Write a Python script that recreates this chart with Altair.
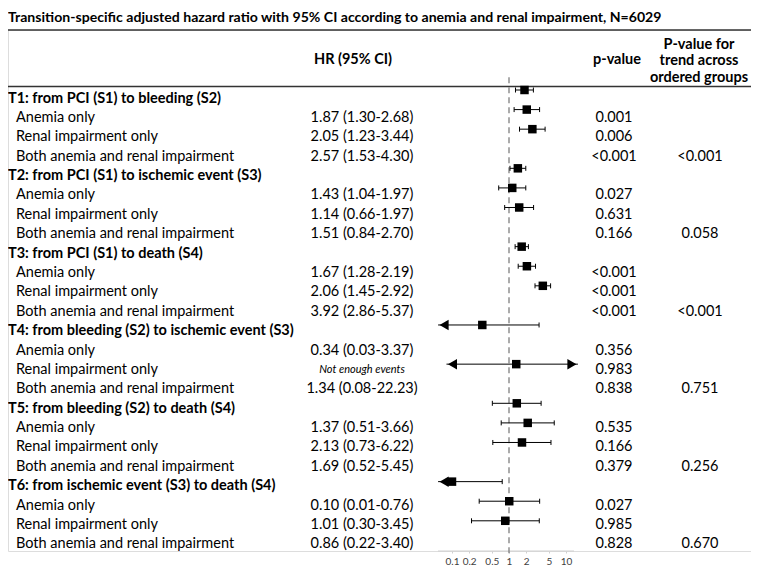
import altair as alt
import pandas as pd

TITLE = "Transition-specific adjusted hazard ratio with 95% CI according to anemia and renal impairment, N=6029"

transitions = [
    "T1: from PCI (S1) to bleeding (S2)",
    "T2: from PCI (S1) to ischemic event (S3)",
    "T3: from PCI (S1) to death (S4)",
    "T4: from bleeding (S2) to ischemic event (S3)",
    "T5: from bleeding (S2) to death (S4)",
    "T6: from ischemic event (S3) to death (S4)",
]
subgroups = ["Anemia only", "Renal impairment only", "Both anemia and renal impairment"]

hr = [1.87, 2.05, 2.57, 1.43, 1.14, 1.51, 1.67, 2.06, 3.92,
      0.34, None, 1.34, 1.37, 2.13, 1.69, 0.10, 1.01, 0.86]
hr_lo = [1.30, 1.23, 1.53, 1.04, 0.66, 0.84, 1.28, 1.45, 2.86,
         0.03, None, 0.08, 0.51, 0.73, 0.52, 0.01, 0.30, 0.22]
hr_hi = [2.68, 3.44, 4.30, 1.97, 1.97, 2.70, 2.19, 2.92, 5.37,
         3.37, None, 22.23, 3.66, 6.22, 5.45, 0.76, 3.45, 3.40]
p_values = ["0.001", "0.006", "<0.001", "0.027", "0.631", "0.166",
            "<0.001", "<0.001", "<0.001", "0.356", "0.983", "0.838",
            "0.535", "0.166", "0.379", "0.027", "0.985", "0.828"]
p_trend = ["<0.001", "0.058", "<0.001", "0.751", "0.256", "0.670"]
tick_values = [0.1, 0.2, 0.5, 1, 2, 5, 10]
NO_EVENTS = "Not enough events"

# axis limits of the forest plot (beyond them an arrow is drawn)
AX_MIN, AX_MAX = 0.1, 10
TIP_MIN, TIP_MAX = 0.057, 16.2

FONT = "Lato"
BODY = 14.5

# ---- tables built from the lists ----
rows = []
forest = []
for g, name in enumerate(transitions):
    rows.append({"row": 4 * g, "label": name, "kind": "header"})
    for s, sub in enumerate(subgroups):
        k = 3 * g + s
        r = 4 * g + 1 + s
        h, lo, hi = hr[k], hr_lo[k], hr_hi[k]
        hrtxt = f"{h:.2f} ({lo:.2f}-{hi:.2f})" if h is not None else ""
        rows.append({"row": r, "label": sub, "kind": "sub", "hrtxt": hrtxt,
                     "noev": NO_EVENTS if h is None else "",
                     "p": p_values[k], "trend": p_trend[g] if s == 2 else ""})
        if h is not None:
            forest.append({"row": r, "hr": h,
                           "lo": max(lo, TIP_MIN), "hi": min(hi, TIP_MAX),
                           "lo_cap": lo if lo >= AX_MIN else None,
                           "hi_cap": hi if hi <= AX_MAX else None,
                           "left_arrow": lo < AX_MIN, "right_arrow": hi > AX_MAX})
rows = pd.DataFrame(rows)
forest = pd.DataFrame(forest)
one = pd.DataFrame({"k": [0]})
title_df = pd.DataFrame({"title": [TITLE]})

W, H = 743, 521
ty = alt.Scale(domain=[0, 23], range=[68.5, 514.4], nice=False, zero=False)
my = alt.Scale(domain=[1, 23], range=[60.0, 490.8], nice=False, zero=False)
xs = alt.Scale(type="log", domain=[AX_MIN, AX_MAX], range=[444, 558], nice=False)
xaxis = alt.Axis(values=tick_values, format="~g", title=None, grid=False, domain=False,
                 tickColor="#d0d0d0", tickSize=2, labelFont=FONT, labelFontSize=10,
                 labelColor="#404040", labelPadding=3, labelFlush=False, labelOverlap=False)

def tx(df, size=BODY, **kw):
    kw.setdefault("baseline", "middle")
    return alt.Chart(df).mark_text(font=FONT, fontSize=size, color="black", **kw)

title = tx(title_df, size=14.1, align="left", fontWeight="bold", baseline="alphabetic").encode(
    x=alt.value(0), y=alt.value(-8.5), text="title:N")
headers = tx(rows[rows.kind == "header"], align="left", fontWeight="bold").encode(
    x=alt.value(0), y=alt.Y("row:Q", scale=ty, axis=None), text="label:N")
subs = tx(rows[rows.kind == "sub"], align="left").encode(
    x=alt.value(8), y=alt.Y("row:Q", scale=ty, axis=None), text="label:N")
hrt = tx(rows[rows.kind == "sub"], align="center").encode(
    x=alt.value(354), y=alt.Y("row:Q", scale=ty, axis=None), text="hrtxt:N")
noev = tx(rows[rows.kind == "sub"], size=11, align="center", fontStyle="italic").encode(
    x=alt.value(354), y=alt.Y("row:Q", scale=ty, axis=None), text="noev:N")
pv = tx(rows[rows.kind == "sub"], align="center").encode(
    x=alt.value(606), y=alt.Y("row:Q", scale=ty, axis=None), text="p:N")
pt = tx(rows[rows.kind == "sub"], align="center").encode(
    x=alt.value(692), y=alt.Y("row:Q", scale=ty, axis=None), text="trend:N")

h_hr = tx(one, align="center", fontWeight="bold").encode(
    x=alt.value(345), y=alt.value(30.2), text=alt.value("HR (95% CI)"))
h_p = tx(one, align="center", fontWeight="bold").encode(
    x=alt.value(609), y=alt.value(30.2), text=alt.value("p-value"))
h_t = tx(one, align="center", fontWeight="bold", lineHeight=16.7).encode(
    x=alt.value(691), y=alt.value(14.5),
    text=alt.value(["P-value for", "trend across", "ordered groups"]))

line_top = alt.Chart(one).mark_rule(color="#333333", strokeWidth=1.5).encode(
    x=alt.value(0), x2=alt.value(W), y=alt.value(0))
line_hdr = alt.Chart(one).mark_rule(color="#333333", strokeWidth=1.5).encode(
    x=alt.value(0), x2=alt.value(W), y=alt.value(56.6))
axis_line = alt.Chart(one).mark_rule(color="#d0d0d0", strokeWidth=1).encode(
    x=alt.value(430), x2=alt.value(566), y=alt.value(H))
ref_line = alt.Chart(one).transform_calculate(ref="1").mark_rule(
    color="#7f7f7f", strokeWidth=1.3, strokeDash=[6, 4]).encode(
    x=alt.X("ref:Q", scale=xs, axis=xaxis), y=alt.value(47.2), y2=alt.value(524.2))

ci = alt.Chart(forest).mark_rule(color="black", strokeWidth=1).encode(
    x=alt.X("lo:Q", scale=xs, axis=xaxis), x2="hi:Q", y=alt.Y("row:Q", scale=my, axis=None))
cap_lo = alt.Chart(forest).transform_filter("datum.lo_cap != null").mark_rule(
    color="black", strokeWidth=1, yOffset=-2.5, y2Offset=2.5).encode(
    x=alt.X("lo_cap:Q", scale=xs, axis=xaxis), y=alt.Y("row:Q", scale=my, axis=None), y2="row:Q")
cap_hi = alt.Chart(forest).transform_filter("datum.hi_cap != null").mark_rule(
    color="black", strokeWidth=1, yOffset=-2.5, y2Offset=2.5).encode(
    x=alt.X("hi_cap:Q", scale=xs, axis=xaxis), y=alt.Y("row:Q", scale=my, axis=None), y2="row:Q")
arr_l = alt.Chart(forest).transform_filter("datum.left_arrow").mark_point(
    shape="triangle-left", filled=True, size=110, color="black", opacity=1, xOffset=6).encode(
    x=alt.X("lo:Q", scale=xs, axis=xaxis), y=alt.Y("row:Q", scale=my, axis=None))
arr_r = alt.Chart(forest).transform_filter("datum.right_arrow").mark_point(
    shape="triangle-right", filled=True, size=110, color="black", opacity=1, xOffset=-6).encode(
    x=alt.X("hi:Q", scale=xs, axis=xaxis), y=alt.Y("row:Q", scale=my, axis=None))
sq = alt.Chart(forest).mark_square(size=72, color="black", opacity=1).encode(
    x=alt.X("hr:Q", scale=xs, axis=xaxis), y=alt.Y("row:Q", scale=my, axis=None))

chart = alt.layer(
    line_top, line_hdr, axis_line, ref_line, title,
    headers, subs, hrt, noev, pv, pt, h_hr, h_p, h_t,
    ci, cap_lo, cap_hi, arr_l, arr_r, sq,
).resolve_scale(y="independent").properties(
    width=W, height=H,
    autosize=alt.AutoSizeParams(type="none"),
    padding={"left": 0, "top": 22, "right": 0, "bottom": 14},
).configure_view(stroke=None).configure(background="white")

chart.save("out.html", embed_options={"renderer": "svg", "actions": False})
